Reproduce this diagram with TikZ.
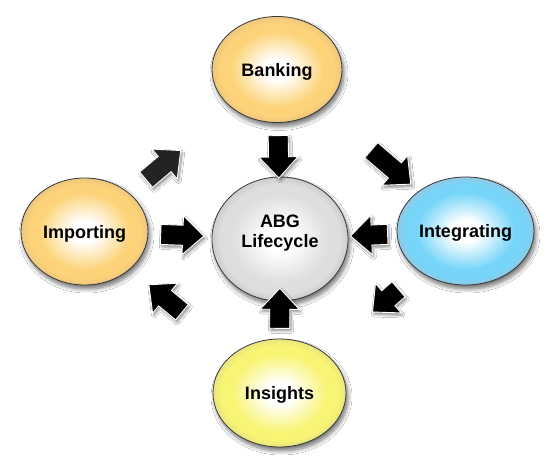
\documentclass[tikz,border=0pt]{standalone}
\usepackage{fontspec}
\setmainfont{Liberation Sans}
\usetikzlibrary{shapes.geometric,calc,shadows.blur}

% bubble colours: mid tone and rim tone
\definecolor{orangemid}{RGB}{252,211,120}
\definecolor{orangerim}{RGB}{236,198,128}
\definecolor{bluemid}{RGB}{118,213,248}
\definecolor{bluerim}{RGB}{146,200,228}
\definecolor{yellowmid}{RGB}{248,244,116}
\definecolor{yellowrim}{RGB}{232,228,128}
\definecolor{graymid}{RGB}{222,222,222}
\definecolor{grayrim}{RGB}{204,204,204}
\definecolor{rimline}{RGB}{58,58,58}
\definecolor{darkarrow}{RGB}{35,35,35}

% glossy radial fills: white highlight in the middle, coloured towards the rim
\pgfdeclareradialshading{orangeglow}{\pgfpointorigin}{color(0bp)=(white); color(5bp)=(white); color(18bp)=(orangemid); color(22bp)=(orangemid); color(25bp)=(orangerim); color(50bp)=(orangerim)}
\pgfdeclareradialshading{blueglow}{\pgfpointorigin}{color(0bp)=(white); color(5bp)=(white); color(18bp)=(bluemid); color(22bp)=(bluemid); color(25bp)=(bluerim); color(50bp)=(bluerim)}
\pgfdeclareradialshading{yellowglow}{\pgfpointorigin}{color(0bp)=(white); color(5bp)=(white); color(18bp)=(yellowmid); color(22bp)=(yellowmid); color(25bp)=(yellowrim); color(50bp)=(yellowrim)}
\pgfdeclareradialshading{grayglow}{\pgfpointorigin}{color(0bp)=(white); color(5bp)=(white); color(18bp)=(graymid); color(22bp)=(graymid); color(25bp)=(grayrim); color(50bp)=(grayrim)}

\tikzset{
  bubble/.style={ellipse, draw=rimline, line width=0.8pt, inner sep=0pt,
    align=center, font=\bfseries\fontsize{18}{20}\selectfont,
    text height=14pt, text depth=0pt,
    blur shadow={shadow xshift=2pt, shadow yshift=-4pt,
      shadow blur radius=4pt, shadow blur steps=8, shadow opacity=55}},
  arrowbody/.style={fill=black, draw=white, line width=0.9pt, line join=miter,
    blur shadow={shadow xshift=1.5pt, shadow yshift=-2.5pt,
      shadow blur radius=2.5pt, shadow blur steps=6, shadow opacity=45}},
  % block arrow lying on the line between two nodes, from fraction #1 to #2
  blockarrow/.style 2 args={to path={
    let \p1=($(\tikztostart)!#1!(\tikztotarget)$),
        \p2=($(\tikztostart)!#2!(\tikztotarget)$),
        \n1={atan2(\y2-\y1,\x2-\x1)},
        \n2={veclen(\x2-\x1,\y2-\y1)},
        \n3={veclen(\x2-\x1,\y2-\y1)-21pt}
    in ([shift={(\p1)},rotate=\n1]0pt,-10pt)
    -- ([shift={(\p1)},rotate=\n1]\n3,-10pt)
    -- ([shift={(\p1)},rotate=\n1]\n3,-19.5pt)
    -- ([shift={(\p1)},rotate=\n1]\n2,0pt)
    -- ([shift={(\p1)},rotate=\n1]\n3,19.5pt)
    -- ([shift={(\p1)},rotate=\n1]\n3,10pt)
    -- ([shift={(\p1)},rotate=\n1]0pt,10pt)
    -- cycle}},
}

\begin{document}
\begin{tikzpicture}[x=1pt,y=1pt]
  \fill[white] (0,0) rectangle (555,471);
  \useasboundingbox (0,0) rectangle (555,471);

  % the five stages
  \node[bubble, shading=orangeglow, minimum width=130pt, minimum height=106pt] (bank) at (277,401.5) {Banking};
  \node[bubble, shading=grayglow, minimum width=136pt, minimum height=124pt,
        text height=, text depth=] (abg) at (280,232)
        {\begin{tabular}{@{}c@{}}ABG\\Lifecycle\\[10pt]\end{tabular}};
  \node[bubble, shading=blueglow, minimum width=137pt, minimum height=108pt] (integ) at (465.5,240) {Integrating};
  \node[bubble, shading=yellowglow, minimum width=133pt, minimum height=108pt] (insig) at (279.5,78) {Insights};
  \node[bubble, shading=orangeglow, minimum width=127pt, minimum height=107pt] (impo) at (84.5,239.5) {Importing};

  % every stage feeds the lifecycle
  \draw[arrowbody] (bank) to[blockarrow={0.39}{0.64}] (abg);
  \draw[arrowbody] (impo) to[blockarrow={0.39}{0.61}] (abg);
  \draw[arrowbody] (integ) to[blockarrow={0.42}{0.62}] (abg);
  \draw[arrowbody] (insig) to[blockarrow={0.42}{0.68}] (abg);

  % the outer cycle
  \draw[arrowbody, fill=darkarrow] (impo) to[blockarrow={0.32}{0.50}] (bank);
  \draw[arrowbody] (bank) to[blockarrow={0.50}{0.71}] (integ);
  \draw[arrowbody] (integ) to[blockarrow={0.36}{0.50}] (insig);
  \draw[arrowbody] (insig) to[blockarrow={0.50}{0.67}] (impo);
\end{tikzpicture}
\end{document}
